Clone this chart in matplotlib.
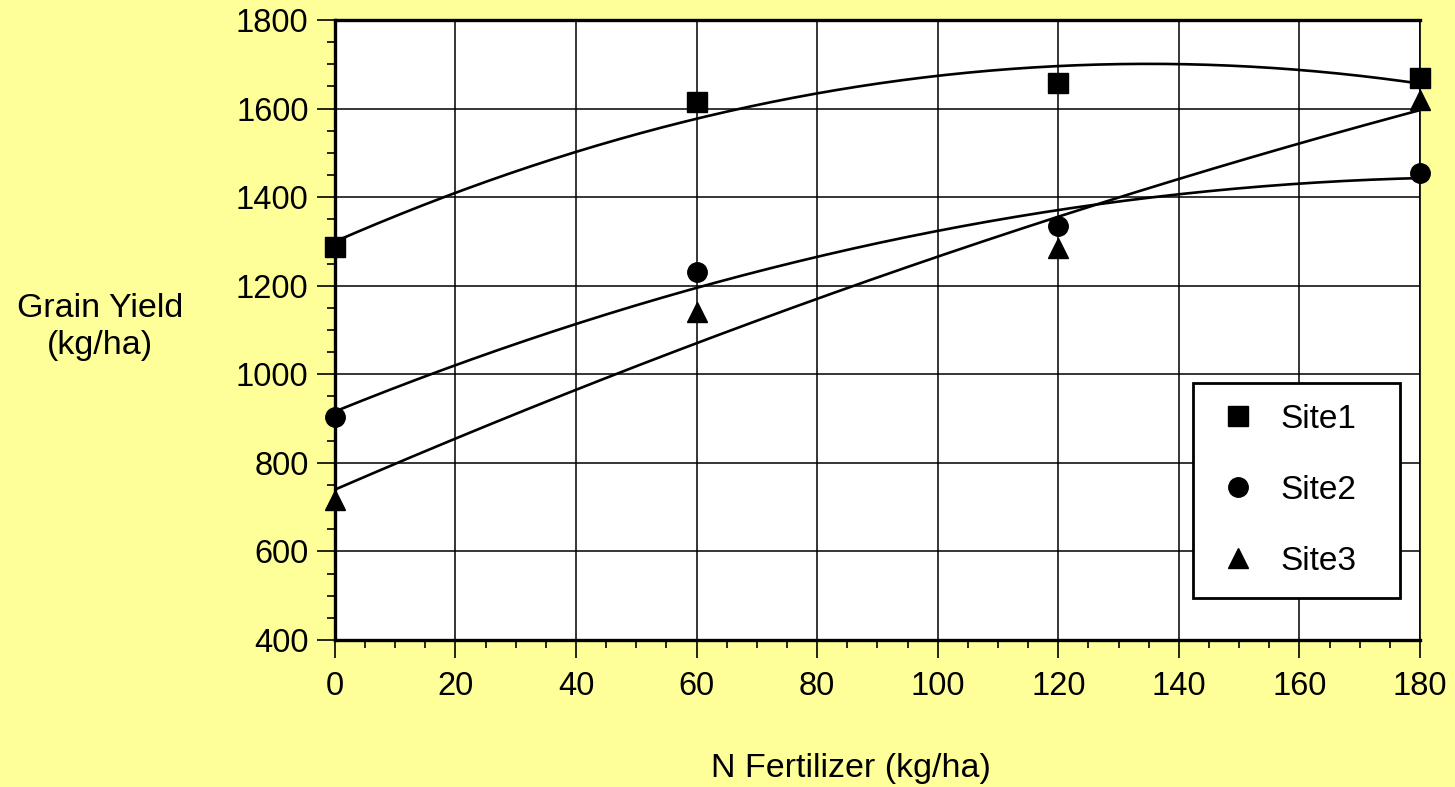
import matplotlib
matplotlib.use("Agg")
import matplotlib.pyplot as plt
from matplotlib.ticker import MultipleLocator
import numpy as np

plt.rcParams['font.family'] = ['Liberation Sans', 'DejaVu Sans']

# N fertilizer rates (kg/ha)
n_rate = [0, 60, 120, 180]

# grain yield (kg/ha) per site
site1 = [1287, 1615, 1658, 1669]
site2 = [904, 1231, 1335, 1455]
site3 = [716, 1141, 1285, 1620]

sites = ["Site1", "Site2", "Site3"]
markers = ["s", "o", "^"]

fig = plt.figure(figsize=(14.55, 7.87), dpi=100)
fig.patch.set_facecolor("#FFFF99")
ax = fig.add_axes([0.2302, 0.1868, 0.9759 - 0.2302, 0.9746 - 0.1868])
ax.set_facecolor("white")

xs = np.linspace(0, 180, 200)
for name, ys, mk in zip(sites, [site1, site2, site3], markers):
    # quadratic trend line through each site's points
    coef = np.polyfit(n_rate, ys, 2)
    ax.plot(xs, np.polyval(coef, xs), color="black", lw=1.9, zorder=3)
    ax.plot(n_rate, ys, linestyle="none", marker=mk, color="black",
            markersize=14, label=name, zorder=4, clip_on=False)

ax.set_xlim(0, 180)
ax.set_ylim(400, 1800)
ax.xaxis.set_major_locator(MultipleLocator(20))
ax.xaxis.set_minor_locator(MultipleLocator(5))
ax.yaxis.set_major_locator(MultipleLocator(200))
ax.yaxis.set_minor_locator(MultipleLocator(50))
ax.grid(which="major", color="black", lw=1.1)
ax.set_axisbelow(True)

ax.tick_params(which="major", direction="out", length=13, width=1.2,
               labelsize=23.5, pad=6)
ax.tick_params(axis="x", which="major", pad=9)
ax.tick_params(which="minor", direction="out", length=6, width=1.2)

for side in ["left", "bottom", "top"]:
    ax.spines[side].set_linewidth(2.4)
ax.spines["right"].set_linewidth(1.2)

fig.text(0.585, 0.024, "N Fertilizer (kg/ha)", fontsize=24.5, ha="center",
         va="center")
fig.text(0.069, 0.585, "Grain Yield\n(kg/ha)", fontsize=24.5, ha="center",
         va="center", linespacing=1.25)

leg = ax.legend(loc="lower left", bbox_to_anchor=(0.791, 0.068, 0.191, 0.351),
                mode="expand", fontsize=24, frameon=True, fancybox=False,
                edgecolor="black", labelspacing=1.2, borderpad=0.62,
                handletextpad=0.55, handlelength=1.45, borderaxespad=0)
leg.get_frame().set_linewidth(2)
leg.get_frame().set_alpha(1)

fig.savefig("out.png", dpi=100, facecolor=fig.get_facecolor())
